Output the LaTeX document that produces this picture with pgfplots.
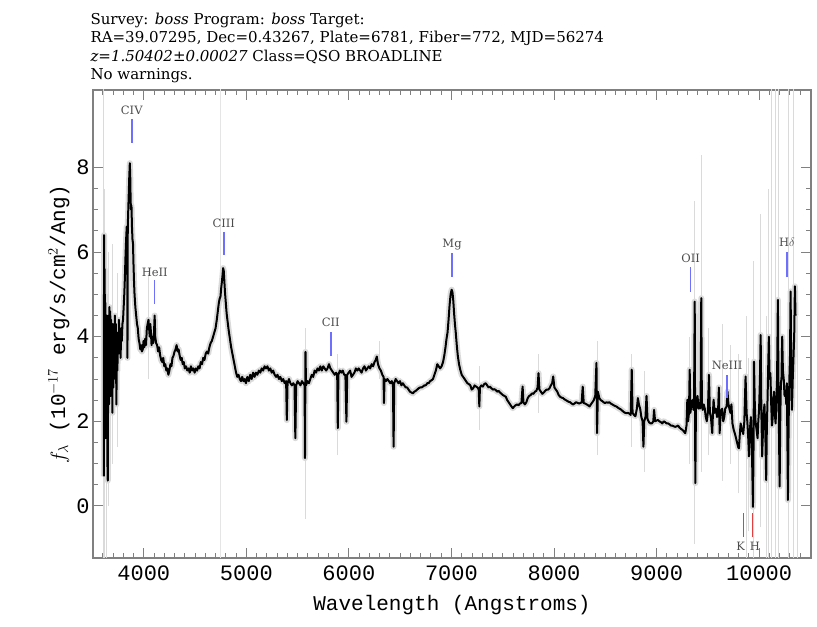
\documentclass[border=0pt]{standalone}
\usepackage{fontspec}
\setmainfont{DejaVu Serif}
\setmonofont{Liberation Mono}
\usepackage{pgfplots}
\pgfplotsset{compat=1.18}
\usepackage{pgfplotstable}
\definecolor{linetick}{HTML}{6E6EFF}
\definecolor{khred}{HTML}{E04040}
\definecolor{errgray}{HTML}{DADADA}
\definecolor{framegray}{HTML}{808080}

% spectrum: wavelength (A), flux (1e-17 erg/s/cm2/A)
\pgfplotstableread{
lam flux
3610 0.70
3613 6.40
3616 1.80
3619 5.60
3622 2.50
3626 4.80
3629 1.60
3633 4.20
3637 2.90
3641 4.50
3645 1.10
3649 0.60
3653 3.40
3657 4.50
3661 2.40
3665 4.70
3669 3.10
3673 4.60
3677 2.60
3681 4.40
3685 3.00
3689 4.20
3694 2.20
3698 4.30
3703 2.80
3708 4.10
3713 3.30
3718 4.50
3723 3.00
3728 4.30
3733 2.40
3738 3.90
3743 3.20
3748 4.10
3753 3.60
3758 4.40
3763 3.70
3768 4.10
3774 3.50
3780 4.20
3786 3.90
3792 4.30
3798 4.40
3804 4.70
3810 5.00
3816 5.40
3822 5.90
3828 6.30
3834 6.60
3838 6.40
3841 3.50
3844 6.60
3849 7.00
3854 7.40
3859 7.80
3864 8.10
3868 7.80
3872 7.20
3876 7.00
3880 7.10
3885 6.60
3890 6.30
3895 6.20
3900 5.70
3905 5.30
3910 5.00
3918 4.70
3926 4.50
3934 4.30
3942 4.20
3950 3.95
3958 3.85
3966 3.70
3974 3.80
3982 3.65
3990 3.70
3998 3.90
4006 3.75
4014 3.95
4022 3.80
4030 4.20
4038 4.30
4046 4.40
4052 4.20
4058 4.00
4064 4.30
4070 4.10
4076 3.80
4084 4.00
4092 3.85
4100 4.10
4106 4.50
4112 4.00
4120 3.85
4130 3.80
4140 3.65
4150 3.75
4160 3.55
4170 3.45
4180 3.40
4190 3.50
4200 3.30
4210 3.35
4220 3.20
4230 3.25
4240 3.10
4250 3.20
4260 3.35
4270 3.30
4280 3.50
4290 3.55
4300 3.65
4310 3.70
4320 3.80
4330 3.65
4340 3.70
4350 3.55
4360 3.45
4370 3.50
4380 3.35
4390 3.40
4400 3.25
4412 3.30
4424 3.20
4436 3.25
4448 3.15
4460 3.30
4472 3.20
4484 3.25
4496 3.15
4508 3.25
4520 3.20
4532 3.30
4544 3.25
4556 3.40
4568 3.35
4580 3.50
4592 3.45
4604 3.60
4616 3.65
4628 3.60
4640 3.75
4652 3.85
4664 3.90
4676 4.00
4688 4.10
4700 4.20
4712 4.40
4722 4.60
4732 4.80
4740 4.90
4748 4.95
4755 5.15
4762 5.30
4768 5.45
4774 5.62
4780 5.55
4786 5.30
4792 5.05
4800 4.80
4808 4.55
4818 4.35
4828 4.15
4840 3.95
4852 3.75
4864 3.60
4876 3.45
4888 3.30
4900 3.15
4912 3.05
4924 3.10
4936 3.00
4948 2.95
4960 3.05
4972 2.95
4984 3.00
4996 2.90
5010 3.05
5024 2.95
5038 3.10
5052 3.00
5066 3.15
5080 3.05
5094 3.15
5108 3.10
5122 3.20
5136 3.15
5150 3.25
5164 3.20
5178 3.30
5192 3.25
5206 3.30
5220 3.20
5234 3.25
5248 3.15
5262 3.20
5276 3.10
5290 3.05
5304 3.10
5318 3.00
5332 3.05
5346 2.95
5360 3.00
5374 2.90
5388 2.95
5395 2.03
5402 2.90
5416 3.00
5430 2.90
5444 2.85
5458 2.90
5470 2.85
5478 1.60
5486 2.85
5500 2.95
5514 2.90
5528 2.85
5542 2.95
5556 2.90
5568 2.85
5572 1.13
5577 3.64
5582 2.85
5596 2.95
5610 2.90
5624 3.00
5638 3.10
5652 3.05
5666 3.20
5680 3.15
5694 3.25
5708 3.20
5722 3.30
5736 3.20
5750 3.30
5764 3.25
5778 3.20
5792 3.25
5806 3.35
5820 3.25
5834 3.20
5848 3.15
5862 3.10
5876 3.15
5886 3.10
5892 1.84
5898 3.10
5912 3.20
5926 3.15
5940 3.20
5954 3.10
5966 3.10
5976 1.99
5984 3.10
5998 3.15
6012 3.20
6026 3.05
6040 3.10
6054 3.15
6068 3.25
6082 3.20
6096 3.25
6110 3.20
6124 3.15
6138 3.25
6152 3.30
6166 3.20
6180 3.25
6194 3.30
6208 3.25
6222 3.35
6236 3.30
6250 3.40
6262 3.45
6272 3.53
6284 3.35
6298 3.25
6312 3.20
6326 3.10
6338 3.05
6342 2.43
6348 3.00
6362 2.95
6376 3.00
6390 2.95
6404 2.90
6418 2.95
6430 2.85
6436 1.40
6442 2.90
6456 3.00
6470 2.95
6484 2.90
6498 2.95
6512 2.85
6526 2.90
6540 2.85
6554 2.80
6568 2.80
6582 2.75
6596 2.70
6610 2.68
6624 2.66
6638 2.70
6652 2.72
6666 2.75
6680 2.78
6694 2.80
6708 2.80
6722 2.82
6736 2.85
6750 2.85
6764 2.90
6778 2.90
6792 2.95
6806 2.97
6820 3.00
6834 3.10
6848 3.20
6862 3.35
6876 3.30
6890 3.25
6904 3.30
6918 3.40
6930 3.55
6942 3.75
6952 3.95
6962 4.10
6972 4.40
6982 4.75
6992 5.00
7002 5.11
7010 5.05
7018 4.85
7026 4.55
7034 4.30
7042 4.10
7052 3.80
7062 3.55
7074 3.35
7086 3.22
7100 3.10
7114 3.05
7128 3.00
7142 2.95
7156 2.90
7170 2.88
7184 2.85
7198 2.75
7212 2.78
7226 2.85
7240 2.82
7254 2.80
7266 2.75
7272 2.35
7278 2.80
7292 2.85
7306 2.82
7320 2.88
7334 2.90
7348 2.85
7362 2.80
7376 2.82
7390 2.78
7404 2.75
7418 2.76
7432 2.74
7446 2.70
7460 2.72
7474 2.68
7488 2.65
7502 2.62
7516 2.60
7530 2.58
7544 2.50
7558 2.45
7572 2.40
7586 2.35
7598 2.31
7612 2.35
7626 2.38
7640 2.40
7654 2.38
7668 2.42
7682 2.43
7694 2.82
7702 2.45
7716 2.40
7730 2.45
7744 2.55
7758 2.60
7772 2.62
7786 2.66
7800 2.65
7814 2.70
7828 2.72
7840 2.80
7849 3.14
7858 2.75
7872 2.70
7886 2.65
7900 2.68
7914 2.72
7928 2.75
7942 2.75
7956 2.78
7970 2.85
7982 2.90
7992 3.06
8004 2.80
8018 2.75
8032 2.70
8046 2.62
8060 2.58
8074 2.56
8088 2.55
8102 2.52
8116 2.50
8130 2.48
8144 2.46
8158 2.45
8172 2.42
8186 2.40
8200 2.42
8214 2.45
8228 2.44
8242 2.42
8256 2.43
8270 2.45
8280 2.82
8290 2.43
8304 2.42
8318 2.40
8332 2.38
8346 2.35
8360 2.40
8374 2.45
8388 2.50
8402 2.60
8414 3.38
8420 1.72
8428 2.70
8442 2.55
8456 2.50
8470 2.48
8484 2.45
8498 2.43
8512 2.45
8526 2.44
8540 2.45
8554 2.42
8568 2.40
8582 2.38
8596 2.36
8610 2.35
8624 2.32
8638 2.30
8652 2.28
8666 2.25
8680 2.22
8694 2.20
8708 2.19
8722 2.20
8736 2.18
8748 2.15
8758 3.22
8766 2.20
8780 2.15
8794 2.12
8808 2.30
8818 2.55
8828 2.40
8840 2.30
8852 2.10
8864 2.00
8872 1.40
8880 2.00
8892 2.10
8902 2.60
8912 2.05
8926 1.98
8940 1.95
8954 1.95
8968 2.00
8976 2.27
8986 2.00
9000 2.02
9014 2.03
9028 2.00
9042 1.98
9056 1.95
9070 2.00
9084 1.98
9098 1.95
9112 1.95
9126 1.93
9140 1.90
9154 1.90
9168 1.88
9182 1.87
9196 1.88
9210 1.90
9224 1.85
9238 1.82
9252 1.80
9266 1.76
9280 1.72
9292 1.90
9300 2.51
9308 2.00
9316 2.20
9323 3.22
9330 2.20
9340 2.40
9350 2.50
9360 2.27
9366 2.60
9372 4.83
9378 0.54
9384 2.30
9392 2.40
9400 2.60
9408 2.30
9414 2.43
9424 2.30
9430 2.60
9436 4.91
9442 2.40
9450 2.27
9460 2.40
9470 2.30
9480 2.10
9490 2.00
9500 2.20
9511 3.10
9520 2.20
9530 2.10
9543 1.72
9550 2.20
9556 2.51
9566 2.20
9578 2.30
9590 2.10
9600 2.27
9608 2.80
9615 1.72
9625 2.20
9640 2.30
9650 2.00
9660 2.10
9670 2.30
9683 2.35
9692 2.70
9700 2.43
9710 2.30
9720 2.20
9730 2.40
9740 1.95
9752 1.80
9765 1.70
9775 1.60
9785 1.50
9795 1.40
9803 1.36
9812 1.70
9820 1.95
9832 1.80
9845 1.70
9856 2.00
9868 3.06
9878 2.20
9885 2.00
9894 1.60
9901 1.17
9910 1.80
9920 2.10
9928 1.50
9934 0.80
9940 -0.02
9946 1.50
9950 3.41
9958 2.40
9965 2.00
9975 1.80
9985 1.60
9992 2.00
10000 2.30
10008 3.00
10015 4.04
10022 2.20
10030 1.17
10038 1.80
10045 2.20
10052 2.40
10060 1.80
10069 0.61
10075 1.80
10082 2.50
10088 3.20
10095 4.00
10102 3.00
10110 3.14
10118 2.40
10125 1.90
10130 2.00
10138 2.50
10145 2.70
10152 2.20
10161 1.95
10168 2.50
10175 3.00
10183 4.87
10190 2.50
10200 0.46
10206 2.00
10212 2.90
10218 3.00
10225 4.00
10232 3.20
10240 3.00
10248 2.60
10258 2.70
10265 2.40
10270 2.90
10276 1.50
10281 0.14
10288 2.00
10295 3.00
10301 3.50
10307 5.07
10314 3.00
10320 2.27
10328 3.00
10335 3.50
10342 4.00
10349 5.19
10355 4.50
}\spec

\begin{document}
\begin{tikzpicture}
\begin{axis}[
  name=ax,
  width=718pt, height=468pt, scale only axis,
  xmin=3505, xmax=10506, ymin=-1.23, ymax=9.83,
  xtick distance=1000, minor x tick num=9,
  ytick={0,2,4,6,8}, minor y tick num=3,
  scaled x ticks=false,
  tick align=inside, major tick length=10pt, minor tick length=5pt,
  axis line style={framegray, line width=1.2pt},
  every tick/.style={framegray, line width=0.9pt},
  /pgf/number format/assume math mode=true,
  /pgf/number format/1000 sep={},
  ticklabel style={font=\ttfamily\fontsize{22}{24}\selectfont},
  xticklabel style={yshift=-4pt},
  xlabel={Wavelength (Angstroms)},
  ylabel={$f_\lambda$ (10$^{-17}$ erg/s/cm$^2$/Ang)},
  label style={font=\ttfamily\fontsize{21}{24}\selectfont},
  xlabel style={yshift=-8pt},
]
% sky / error spikes
\addplot[errgray, line width=1pt, unbounded coords=jump] coordinates {
(3612,-1.3) (3612,9.9) (3612.5,nan)
(3622,-1.3) (3622,7.5) (3622.5,nan)
(3640,-1.3) (3640,6.2) (3640.5,nan)
(3660,0.0) (3660,6.0) (3660.5,nan)
(3700,1.0) (3700,6.2) (3700.5,nan)
(3745,1.4) (3745,5.5) (3745.5,nan)
(4050,3.0) (4050,5.5) (4050.5,nan)
(5577,-0.3) (5577,4.2) (5577.5,nan)
(5892,1.2) (5892,3.6) (5892.5,nan)
(6300,3.0) (6300,3.9) (6300.5,nan)
(7272,1.8) (7272,3.3) (7272.5,nan)
(7849,2.2) (7849,3.6) (7849.5,nan)
(8420,1.2) (8420,3.9) (8420.5,nan)
(8758,1.4) (8758,3.6) (8758.5,nan)
(8878,0.8) (8878,3.2) (8878.5,nan)
(9323,1.0) (9323,4.0) (9323.5,nan)
(9372,-0.9) (9372,7.2) (9372.5,nan)
(9436,0.8) (9436,8.3) (9436.5,nan)
(9511,1.2) (9511,4.2) (9511.5,nan)
(9640,0.6) (9640,4.3) (9640.5,nan)
(9720,1.0) (9720,3.8) (9720.5,nan)
(9803,0.3) (9803,3.6) (9803.5,nan)
(9875,-1.3) (9875,4.5) (9875.5,nan)
(9901,-0.6) (9901,3.5) (9901.5,nan)
(9950,-1.3) (9950,5.8) (9950.5,nan)
(10015,-0.5) (10015,6.9) (10015.5,nan)
(10069,-1.3) (10069,4.5) (10069.5,nan)
(10095,-1.3) (10095,7.5) (10095.5,nan)
(10120,-1.3) (10120,9.9) (10120.5,nan)
(10160,-1.3) (10160,9.9) (10160.5,nan)
(10193,-1.3) (10193,9.9) (10193.5,nan)
(10283,-1.3) (10283,9.9) (10283.5,nan)
(10339,-1.3) (10339,9.9) (10339.5,nan)
(10370,-1.3) (10370,4.5)
};
\addplot[black!10, line width=1.5pt] coordinates {(4750,-1.3) (4750,9.9)};
% error band
\addplot[errgray, line width=6pt, line join=round] table[x=lam, y=flux] {\spec};
% flux
\addplot[black, line width=2pt, line join=round] table[x=lam, y=flux] {\spec};
% line ID ticks
\addplot[linetick, line width=1.5pt, unbounded coords=jump] coordinates {
(3883,8.58) (3883,9.15) (3884,nan)
(4107,4.78) (4107,5.34) (4108,nan)
(4780,5.93) (4780,6.48) (4781,nan)
(5824,3.55) (5824,4.11) (5825,nan)
(7006,5.41) (7006,5.98) (7007,nan)
(9332,5.06) (9332,5.65) (9333,nan)
(9688,2.55) (9688,3.10) (9689,nan)
(10271,5.41) (10271,6.00)
};
\addplot[khred, line width=1.3pt, unbounded coords=jump] coordinates {
(9851,-0.73) (9851,-0.17) (9852,nan)
(9938,-0.73) (9938,-0.17)
};
\begin{scope}[every node/.style={font=\fontsize{11.5}{13}\selectfont, text=black!70}]
\node at (axis cs:3883,9.36) {CIV};
\node at (axis cs:4107,5.53) {HeII};
\node at (axis cs:4780,6.69) {CIII};
\node at (axis cs:5824,4.33) {CII};
\node at (axis cs:7006,6.17) {Mg};
\node at (axis cs:9332,5.86) {OII};
\node at (axis cs:9688,3.31) {NeIII};
\node at (axis cs:10271,6.22) {H$\delta$};
\node at (axis cs:9820,-0.95) {K};
\node at (axis cs:9960,-0.95) {H};
\end{scope}
\end{axis}
\begin{scope}[every node/.style={anchor=base west, font=\fontsize{15}{17}\selectfont}]
\node at ([xshift=-6pt,yshift=65pt]ax.north west) {Survey: \textit{boss} Program: \textit{boss} Target:};
\node at ([xshift=-6pt,yshift=47pt]ax.north west) {RA=39.07295, Dec=0.43267, Plate=6781, Fiber=772, MJD=56274};
\node at ([xshift=-6pt,yshift=28pt]ax.north west) {\textit{z=1.50402±0.00027} Class=QSO BROADLINE};
\node at ([xshift=-6pt,yshift=10pt]ax.north west) {No warnings.};
\end{scope}
\pgfresetboundingbox
\path[use as bounding box] ([xshift=-93pt,yshift=-69pt]ax.south west) rectangle ([xshift=6pt,yshift=90pt]ax.north east);
\end{tikzpicture}
\end{document}
